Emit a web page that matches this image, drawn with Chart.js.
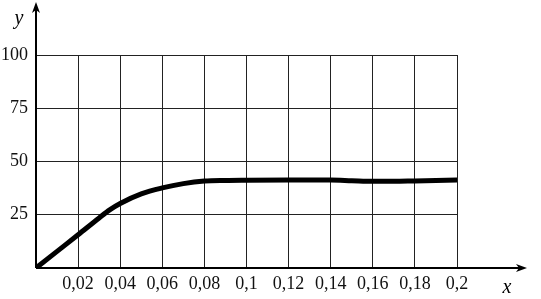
<!DOCTYPE html>
<html>
<head>
<meta charset="utf-8">
<script src="https://cdn.jsdelivr.net/npm/chart.js@4/dist/chart.umd.min.js"></script>
<style>
  html, body { margin: 0; padding: 0; background: #fff; }
  #wrap { width: 541px; height: 299px; }
</style>
</head>
<body>
<div id="wrap"><canvas id="chart"></canvas></div>
<script>
// curve
var xValues = [0, 0.01, 0.02, 0.03, 0.035, 0.04, 0.05, 0.06, 0.07, 0.08, 0.09, 0.10, 0.12, 0.14, 0.15, 0.16, 0.17, 0.18, 0.20];
var yValues = [0, 7.8, 15.6, 23.5, 27.3, 30.3, 34.8, 37.6, 39.6, 40.8, 41.1, 41.2, 41.3, 41.3, 41.0, 40.7, 40.7, 40.9, 41.3];

var xTicks = [0.02, 0.04, 0.06, 0.08, 0.1, 0.12, 0.14, 0.16, 0.18, 0.2];
var yTicks = [25, 50, 75, 100];

var points = xValues.map(function(x, i) { return { x: x, y: yValues[i] }; });

var font = { family: "Liberation Serif", size: 18 };

// axes with arrows + axis names
var axesPlugin = {
	id: "axes",
	afterDatasetsDraw: function(chart) {
		var c = chart.ctx;
		var xs = chart.scales.x, ys = chart.scales.y;
		var x0 = xs.getPixelForValue(0), y0 = ys.getPixelForValue(0);
		c.save();
		c.strokeStyle = "#000";
		c.fillStyle = "#000";
		c.lineWidth = 2;
		c.beginPath();
		c.moveTo(x0, y0);
		c.lineTo(x0, 6);
		c.moveTo(x0, y0);
		c.lineTo(522, y0);
		c.stroke();
		// arrow heads
		c.beginPath();
		c.moveTo(x0, 2);
		c.lineTo(x0 - 4, 13);
		c.lineTo(x0, 10);
		c.lineTo(x0 + 4, 13);
		c.closePath();
		c.fill();
		c.beginPath();
		c.moveTo(527, y0);
		c.lineTo(516, y0 - 4);
		c.lineTo(519, y0);
		c.lineTo(516, y0 + 4);
		c.closePath();
		c.fill();
		c.font = "italic 20px Liberation Serif";
		c.textAlign = "center";
		c.textBaseline = "middle";
		c.fillText("y", 19, 19);
		c.fillText("x", 507, 288);
		c.restore();
	}
};

var ctx = document.getElementById("chart");

var chart = new Chart(ctx, {
	type: "scatter",
	data: {
		datasets: [{
			data: points,
			showLine: true,
			borderColor: "#000",
			borderWidth: 5,
			pointRadius: 0,
			cubicInterpolationMode: "monotone",
			borderCapStyle: "round",
			fill: false
		}]
	},
	options: {
		responsive: true,
		maintainAspectRatio: false,
		animation: false,
		layout: { padding: { top: 55, right: 84, left: 0, bottom: 0 } },
		plugins: {
			legend: { display: false },
			tooltip: { enabled: false }
		},
		scales: {
			x: {
				type: "linear",
				min: 0,
				max: 0.2,
				afterFit: function(s) { s.height = 31; },
				afterBuildTicks: function(s) {
					s.ticks = [{ value: 0 }].concat(xTicks.map(function(v) { return { value: v }; }));
				},
				ticks: {
					color: "#111",
					font: font,
					padding: 5,
					maxRotation: 0,
					autoSkip: false,
					callback: function(v) { return v === 0 ? "" : String(+v.toFixed(2)).replace(".", ","); }
				},
				grid: { color: "#222", lineWidth: 1, drawTicks: false },
				border: { display: false }
			},
			y: {
				min: 0,
				max: 100,
				afterFit: function(s) { s.width = 36; },
				afterBuildTicks: function(s) {
					s.ticks = [{ value: 0 }].concat(yTicks.map(function(v) { return { value: v }; }));
				},
				ticks: {
					color: "#111",
					font: font,
					padding: 8,
					callback: function(v) { return v === 0 ? "" : String(v); }
				},
				grid: { color: "#222", lineWidth: 1, drawTicks: false },
				border: { display: false }
			}
		}
	},
	plugins: [axesPlugin]
});
</script>
</body>
</html>
